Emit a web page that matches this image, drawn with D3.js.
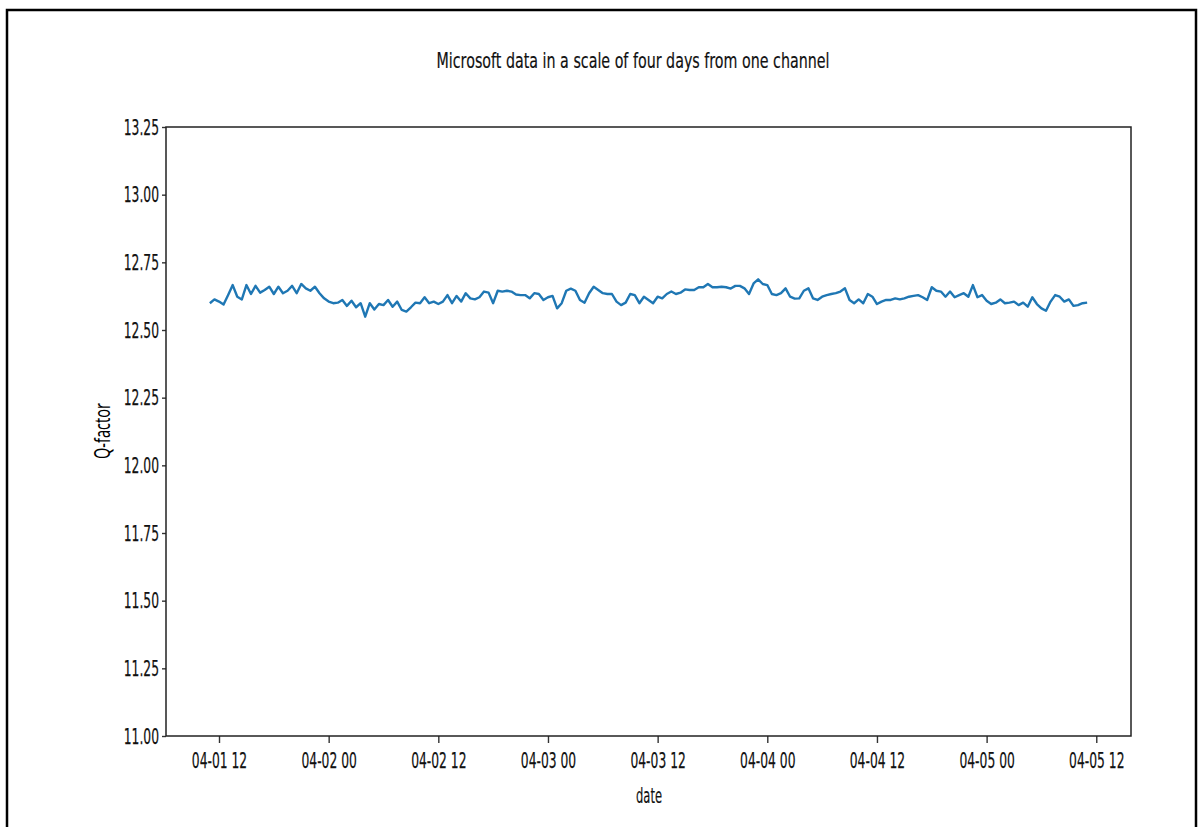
<!DOCTYPE html>
<html>
<head>
<meta charset="utf-8">
<script src="https://cdn.jsdelivr.net/npm/d3@7"></script>
<style>
  html, body { margin: 0; padding: 0; background: #fff; }
  svg { display: block; }
</style>
</head>
<body>
<svg id="chart" width="1199" height="827"></svg>
<script>
// ---------------- DATA ----------------
const chartTitle = "Microsoft data in a scale of four days from one channel";
const xLabel = "date";
const yLabel = "Q-factor";
const startTime = "2021-04-01T11:00:00";   // first sample
const stepMinutes = 30;                      // sampling interval
const qfactor = [
  12.599, 12.613, 12.605, 12.594, 12.629, 12.666, 12.623, 12.613, 12.666, 12.633,
  12.663, 12.638, 12.648, 12.660, 12.633, 12.660, 12.636, 12.645, 12.663, 12.636,
  12.670, 12.654, 12.645, 12.660, 12.636, 12.617, 12.605, 12.599, 12.601, 12.611,
  12.589, 12.608, 12.584, 12.599, 12.549, 12.599, 12.576, 12.596, 12.592, 12.611,
  12.586, 12.605, 12.574, 12.568, 12.584, 12.601, 12.599, 12.621,
  12.599, 12.605, 12.596, 12.605, 12.629, 12.599, 12.626, 12.605, 12.636, 12.617,
  12.613, 12.621, 12.642, 12.638, 12.599, 12.645, 12.642, 12.645, 12.642, 12.631,
  12.629, 12.629, 12.617, 12.636, 12.633, 12.611, 12.621, 12.626, 12.580, 12.599,
  12.645, 12.653, 12.645, 12.611, 12.601, 12.636, 12.660, 12.648, 12.636, 12.633,
  12.633, 12.605, 12.592, 12.601, 12.633, 12.629, 12.599, 12.623,
  12.611, 12.599, 12.623, 12.617, 12.633, 12.642, 12.633, 12.638, 12.650, 12.648,
  12.648, 12.658, 12.658, 12.670, 12.658, 12.658, 12.660, 12.658, 12.653, 12.663,
  12.663, 12.654, 12.633, 12.672, 12.687, 12.670, 12.666, 12.633, 12.629, 12.636,
  12.654, 12.623, 12.616, 12.617, 12.645, 12.654, 12.617, 12.611, 12.623, 12.629,
  12.633, 12.636, 12.642, 12.654, 12.611, 12.599, 12.613, 12.599,
  12.633, 12.623, 12.596, 12.605, 12.611, 12.611, 12.617, 12.613, 12.617, 12.623,
  12.626, 12.629, 12.621, 12.611, 12.658, 12.645, 12.642, 12.623, 12.642, 12.621,
  12.629, 12.636, 12.623, 12.666, 12.621, 12.629, 12.608, 12.596, 12.601, 12.613,
  12.599, 12.601, 12.605, 12.592, 12.601, 12.586, 12.621, 12.596, 12.580, 12.571,
  12.605, 12.629, 12.623, 12.605, 12.613, 12.589, 12.592, 12.599, 12.601
];
const yTicks = [11.00, 11.25, 11.50, 11.75, 12.00, 12.25, 12.50, 12.75, 13.00, 13.25];
const xTickTimes = [
  "2021-04-01T12:00:00", "2021-04-02T00:00:00", "2021-04-02T12:00:00",
  "2021-04-03T00:00:00", "2021-04-03T12:00:00", "2021-04-04T00:00:00",
  "2021-04-04T12:00:00", "2021-04-05T00:00:00", "2021-04-05T12:00:00"
];

// ---------------- CHART ----------------
const svg = d3.select("#chart");
const plot = { left: 166, right: 1131, top: 127, bottom: 736 };
const FONT = "'DejaVu Sans', sans-serif";
const SQUEEZE = 0.56;

// outer frame
svg.append("rect")
  .attr("x", 7).attr("y", 10)
  .attr("width", 1189).attr("height", 840)
  .attr("fill", "none").attr("stroke", "#000").attr("stroke-width", 2.5);

const parse = d3.isoParse;
const t0 = parse(startTime);
const data = qfactor.map((v, i) => ({ t: new Date(t0.getTime() + i * stepMinutes * 60000), v }));

const tMin = data[0].t, tMax = data[data.length - 1].t;
const span = tMax - tMin;
const x = d3.scaleTime()
  .domain([new Date(+tMin - 0.05 * span), new Date(+tMax + 0.05 * span)])
  .range([plot.left, plot.right]);
const y = d3.scaleLinear().domain([11.0, 13.25]).range([plot.bottom, plot.top]);

function squeeze(sel, factor) {
  sel.each(function () {
    const len = this.getComputedTextLength();
    d3.select(this).attr("textLength", len * factor).attr("lengthAdjust", "spacingAndGlyphs");
  });
}

// axes
const fmt = d3.timeFormat("%m-%d %H");
const xAxis = d3.axisBottom(x)
  .tickValues(xTickTimes.map(parse))
  .tickFormat(fmt)
  .tickSize(7).tickPadding(9);
const yAxis = d3.axisLeft(y)
  .tickValues(yTicks)
  .tickFormat(d3.format(".2f"))
  .tickSize(4).tickPadding(3);

const gx = svg.append("g").attr("transform", `translate(0,${plot.bottom})`).call(xAxis);
const gy = svg.append("g").attr("transform", `translate(${plot.left},0)`).call(yAxis);
[gx, gy].forEach(g => {
  g.select(".domain").remove();
  g.selectAll(".tick line").attr("stroke", "#333").attr("stroke-width", 1.4);
  g.selectAll(".tick text")
    .attr("fill", "#111")
    .attr("stroke", "#111").attr("stroke-width", 0.25)
    .style("font-family", FONT)
    .style("font-size", "22px");
});
gx.selectAll(".tick text").attr("dy", "0.71em");
squeeze(gx.selectAll(".tick text"), SQUEEZE);
squeeze(gy.selectAll(".tick text"), SQUEEZE);

// line
const line = d3.line().x(d => x(d.t)).y(d => y(d.v));
svg.append("path")
  .datum(data)
  .attr("d", line)
  .attr("fill", "none")
  .attr("stroke", "#1f77b4")
  .attr("stroke-width", 2.4)
  .attr("stroke-linejoin", "round");

// spines
svg.append("rect")
  .attr("x", plot.left).attr("y", plot.top)
  .attr("width", plot.right - plot.left).attr("height", plot.bottom - plot.top)
  .attr("fill", "none").attr("stroke", "#222").attr("stroke-width", 1.5);

// title
svg.append("text")
  .attr("x", 633).attr("y", 68)
  .attr("text-anchor", "middle")
  .style("font-family", FONT).style("font-size", "22px").attr("fill", "#111")
  .attr("stroke", "#111").attr("stroke-width", 0.2)
  .attr("textLength", 393).attr("lengthAdjust", "spacingAndGlyphs")
  .text(chartTitle);

// x label
svg.append("text")
  .attr("x", 649).attr("y", 803)
  .attr("text-anchor", "middle")
  .style("font-family", FONT).style("font-size", "22px").attr("fill", "#111")
  .attr("stroke", "#111").attr("stroke-width", 0.2)
  .attr("textLength", 26).attr("lengthAdjust", "spacingAndGlyphs")
  .text(xLabel);

// y label
svg.append("text")
  .attr("transform", `translate(110,431) rotate(-90)`)
  .attr("text-anchor", "middle")
  .style("font-family", "'Noto Sans', sans-serif").style("font-size", "21px").attr("fill", "#000")
  .attr("textLength", 56).attr("lengthAdjust", "spacingAndGlyphs")
  .text(yLabel);
</script>
</body>
</html>
